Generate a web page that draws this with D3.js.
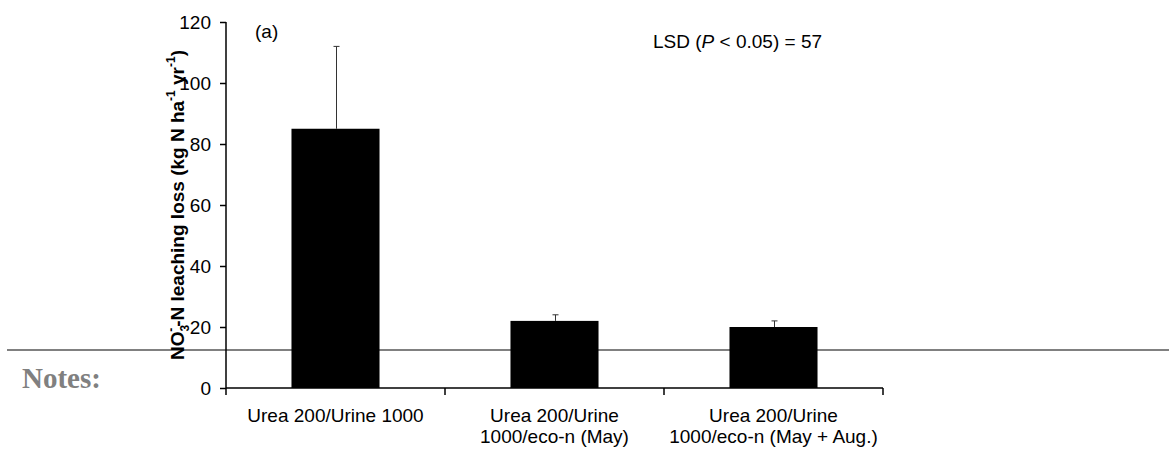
<!DOCTYPE html>
<html><head><meta charset="utf-8">
<script src="https://cdn.jsdelivr.net/npm/d3@7/dist/d3.min.js"></script>
<style>body{margin:0;background:#fff}svg{display:block}text{font-family:Arial,"Liberation Sans",sans-serif}</style>
</head><body>
<svg id="c" width="1169" height="450"></svg>
<script>
const categories = ["Urea 200/Urine 1000", "Urea 200/Urine 1000/eco-n (May)", "Urea 200/Urine 1000/eco-n (May + Aug.)"];
const categoryLines = [["Urea 200/Urine 1000"], ["Urea 200/Urine", "1000/eco-n (May)"], ["Urea 200/Urine", "1000/eco-n (May + Aug.)"]];
const values = [85, 22, 20];
const errorUpper = [112, 24, 22];
const yTicks = [0, 20, 40, 60, 80, 100, 120];

const svg = d3.select("#c");
const fs = 19;
const x = d3.scaleBand().domain(categories).range([226, 883]).paddingInner(0.598).paddingOuter(0.299);
const y = d3.scaleLinear().domain([0, 120]).range([388, 22]);

// gray page rule
svg.append("line").attr("x1", 7).attr("x2", 1169).attr("y1", 350).attr("y2", 350)
  .attr("stroke", "#808080").attr("stroke-width", 2);
svg.append("text").attr("x", 22).attr("y", 388).text("Notes:")
  .style("font-family", "'Liberation Serif','Times New Roman',serif").style("font-weight", "bold")
  .style("font-size", "29px").attr("fill", "#808080");

// bars
svg.selectAll("rect.bar").data(categories).join("rect").attr("class", "bar")
  .attr("x", d => x(d)).attr("width", x.bandwidth())
  .attr("y", (d, i) => y(values[i])).attr("height", (d, i) => y(0) - y(values[i]))
  .attr("fill", "#000");

// error bars
const eb = svg.append("g").attr("stroke", "#333").attr("stroke-width", 1);
categories.forEach((c, i) => {
  const cx = Math.round(x(c) + x.bandwidth() / 2) + 0.5;
  eb.append("line").attr("x1", cx).attr("x2", cx).attr("y1", y(values[i])).attr("y2", y(errorUpper[i]));
  eb.append("line").attr("x1", cx - 3).attr("x2", cx + 3).attr("y1", y(errorUpper[i])).attr("y2", y(errorUpper[i]));
});

// y axis
const gy = svg.append("g").attr("transform", "translate(226,0)")
  .call(d3.axisLeft(y).tickValues(yTicks).tickSize(6).tickPadding(9));
gy.select(".domain").attr("stroke-width", 1.5).attr("d", `M0,${y(120)}V${y(0)}`);
gy.selectAll(".tick line").attr("stroke-width", 1.5);
gy.selectAll(".tick text").style("font-size", fs + "px").attr("fill", "#000");

// x axis
const gx = svg.append("g").attr("transform", `translate(0,${y(0)})`)
  .call(d3.axisBottom(x).tickSize(0).tickFormat(""));
gx.select(".domain").attr("stroke-width", 1.5).attr("d", `M226,0H883`);
const step = x.step();
const bounds = [0, 1, 2, 3].map(k => 226 + k * step);
gx.selectAll("line.bt").data(bounds).join("line").attr("class", "bt")
  .attr("x1", d => d).attr("x2", d => d).attr("y1", 0).attr("y2", 7)
  .attr("stroke", "#000").attr("stroke-width", 1.5);
categories.forEach((c, i) => {
  const t = svg.append("text").attr("text-anchor", "middle")
    .attr("x", x(c) + x.bandwidth() / 2).attr("y", 422).style("font-size", fs + "px");
  categoryLines[i].forEach((ln, j) => {
    t.append("tspan").attr("x", x(c) + x.bandwidth() / 2).attr("dy", j === 0 ? 0 : 21).text(ln);
  });
});

// y title
const yt = svg.append("text").attr("transform", "translate(184,205) rotate(-90)")
  .attr("text-anchor", "middle").style("font-size", fs + "px").style("font-weight", "bold");
yt.append("tspan").text("NO");
yt.append("tspan").attr("dy", 5).style("font-size", "12px").text("3");
yt.append("tspan").attr("dy", -14).attr("dx", -7).style("font-size", "12px").text("-");
yt.append("tspan").attr("dy", 9).attr("dx", 1).text("-N leaching loss (kg N ha");
yt.append("tspan").attr("dy", -9).style("font-size", "12px").text("-1");
yt.append("tspan").attr("dy", 9).text(" yr");
yt.append("tspan").attr("dy", -9).style("font-size", "12px").text("-1");
yt.append("tspan").attr("dy", 9).text(")");

// annotations
svg.append("text").attr("x", 255).attr("y", 38).style("font-size", fs + "px").text("(a)");
const lsd = svg.append("text").attr("x", 653).attr("y", 48).style("font-size", fs + "px");
lsd.append("tspan").text("LSD (");
lsd.append("tspan").style("font-style", "italic").text("P");
lsd.append("tspan").text(" < 0.05) = 57");
</script>
</body></html>
